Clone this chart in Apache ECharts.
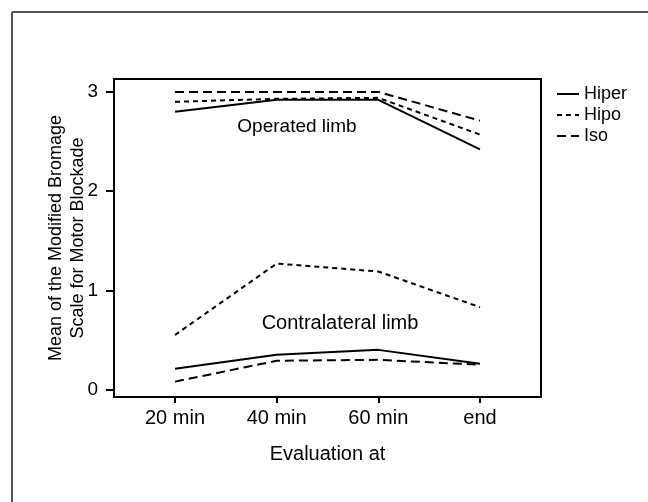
<!DOCTYPE html>
<html>
<head>
<meta charset="utf-8">
<script src="https://cdn.jsdelivr.net/npm/echarts@6/dist/echarts.min.js"></script>
<style>html,body{margin:0;padding:0;background:#fff}#c{width:648px;height:502px}</style>
</head>
<body>
<div id="c"></div>
<script>
// Category positions (x index) and labels
var categories = ['20 min', '40 min', '60 min', 'end'];
var yTicks = [0, 1, 2, 3];

// Operated limb
var hiperOperated = [2.80, 2.92, 2.92, 2.42];
var hipoOperated  = [2.90, 2.93, 2.94, 2.57];
var isoOperated   = [3.00, 3.00, 3.00, 2.71];

// Contralateral limb
var hiperContra = [0.21, 0.35, 0.40, 0.26];
var hipoContra  = [0.55, 1.27, 1.19, 0.83];
var isoContra   = [0.08, 0.29, 0.30, 0.25];

var FONT = 'Liberation Sans, Arial, Helvetica, sans-serif';

function pts(arr){ return arr.map(function(v,i){ return [i, v]; }); }

var styles = {
  Hiper: {type: 'solid'},
  Hipo:  {type: [5, 4]},
  Iso:   {type: [9, 5]}
};

function ser(name, data){
  return {
    name: name, type: 'line', data: pts(data), symbol: 'none', silent: true,
    lineStyle: {color: '#000', width: 2, type: styles[name].type},
    itemStyle: {color: '#000'}
  };
}

var chart = echarts.init(document.getElementById('c'));
chart.setOption({
  animation: false,
  backgroundColor: '#fff',
  grid: {left: 114, top: 79, right: 107, bottom: 105, show: true, borderColor: '#000', borderWidth: 2, containLabel: false},
  legend: {
    orient: 'vertical', left: 551, top: 80, itemWidth: 22, itemHeight: 14, itemGap: 3,
    itemStyle: {opacity: 0},
    textStyle: {fontFamily: FONT, fontSize: 18, color: '#000'},
    data: ['Hiper', 'Hipo', 'Iso']
  },
  xAxis: {
    type: 'value', min: -0.6, max: 3.6,
    splitLine: {show: false},
    axisLine: {show: true, onZero: false, lineStyle: {color: '#000', width: 2}},
    axisTick: {show: true, length: 6, lineStyle: {color: '#000', width: 2}, customValues: [0,1,2,3]},
    axisLabel: {customValues: [0,1,2,3], formatter: function(v){ return categories[Math.round(v)]; }, fontFamily: FONT, fontSize: 20, color: '#000', margin: 11},
    name: 'Evaluation at', nameLocation: 'middle', nameGap: 47,
    nameTextStyle: {fontFamily: FONT, fontSize: 20, color: '#000'}
  },
  yAxis: {
    type: 'value', min: -0.075, max: 3.13,
    splitLine: {show: false},
    axisLine: {show: true, onZero: false, lineStyle: {color: '#000', width: 2}},
    axisTick: {show: true, length: 8, lineStyle: {color: '#000', width: 2}, customValues: yTicks},
    axisLabel: {customValues: yTicks, fontFamily: FONT, fontSize: 19, color: '#000', margin: 16}
  },
  graphic: [
    {type: 'line', shape: {x1: 12, y1: 12, x2: 648, y2: 12}, style: {stroke: '#555', lineWidth: 2}},
    {type: 'line', shape: {x1: 12, y1: 12, x2: 12, y2: 502}, style: {stroke: '#555', lineWidth: 2}},
    {type: 'text', x: 67, y: 238, rotation: Math.PI/2,
     style: {text: 'Mean of the Modified Bromage\nScale for Motor Blockade', x: 0, y: 0, align: 'center', verticalAlign: 'middle', fontFamily: FONT, fontSize: 18, lineHeight: 22, fill: '#000'}},
    {type: 'text', x: 297, y: 127, style: {text: 'Operated limb', align: 'center', verticalAlign: 'middle', fontFamily: FONT, fontSize: 19, fill: '#000'}},
    {type: 'text', x: 340, y: 323, style: {text: 'Contralateral limb', align: 'center', verticalAlign: 'middle', fontFamily: FONT, fontSize: 20, fill: '#000'}}
  ],
  series: [
    ser('Hiper', hiperOperated), ser('Hipo', hipoOperated), ser('Iso', isoOperated),
    ser('Hiper', hiperContra), ser('Hipo', hipoContra), ser('Iso', isoContra)
  ]
});
</script>
</body>
</html>
